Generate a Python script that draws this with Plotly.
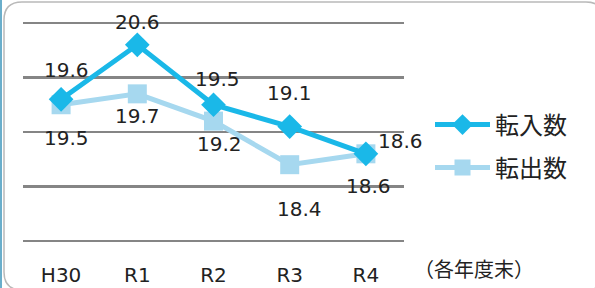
import plotly.graph_objects as go

# ---- data ----
years = ["H30", "R1", "R2", "R3", "R4"]
tennyu = [19.6, 20.6, 19.5, 19.1, 18.6]   # 転入数
tenshutsu = [19.5, 19.7, 19.2, 18.4, 18.6]  # 転出数
name_in = "転入数"
name_out = "転出数"
unit_note = "（各年度末）"

# ---- styling ----
W, H = 595, 288
Y_LO, Y_HI = 17, 21
PAD = 0.0367  # axis padding in data units (~2px) so end gridlines are drawn
ML, MR, MT, MB = 23, 191, 21, 45
PW, PH = W - ML - MR, H - MT - MB
NUMFONT = "DejaVu Sans, Noto Sans, sans-serif"
CJKFONT = "Noto Sans CJK JP, Noto Sans, sans-serif"
C_IN = "#1ab8e8"
C_OUT = "#a6d8ef"
GRID = "#858585"
TXT = "#222222"

# label offsets (px) for data labels
in_shift = [(5, 29), (0, 23), (4, 26), (0, 34), (35, 13)]
out_shift = [(5, -33), (0, -22), (6, -23), (10, -44), (3, -32)]


def px2paper(x, y):
    return (x - ML) / PW, (H - MB - y) / PH


fig = go.Figure()
fig.add_trace(go.Scatter(
    x=years, y=tenshutsu, name=name_out, mode="lines+markers",
    line=dict(color=C_OUT, width=5),
    marker=dict(symbol="square", size=19, color=C_OUT),
    legend="legend2", hoverinfo="skip",
))
fig.add_trace(go.Scatter(
    x=years, y=tennyu, name=name_in, mode="lines+markers",
    line=dict(color=C_IN, width=5),
    marker=dict(symbol="diamond", size=19, color=C_IN),
    legend="legend", hoverinfo="skip",
))

ann = []
for xv, yv, (dx, dy) in zip(years, tennyu, in_shift):
    ann.append(dict(x=xv, y=yv, xref="x", yref="y", text=f"{yv:.1f}", showarrow=False,
                    xshift=dx, yshift=dy, font=dict(size=20, color=TXT, family=NUMFONT)))
for xv, yv, (dx, dy) in zip(years, tenshutsu, out_shift):
    ann.append(dict(x=xv, y=yv, xref="x", yref="y", text=f"{yv:.1f}", showarrow=False,
                    xshift=dx, yshift=dy, font=dict(size=20, color=TXT, family=NUMFONT)))
nx, ny = px2paper(474, 268)
ann.append(dict(x=nx, y=ny, xref="paper", yref="paper", text=unit_note, showarrow=False,
                xanchor="center", yanchor="middle",
                font=dict(size=20, color=TXT, family=CJKFONT)))


def P(x, y):
    a, b = px2paper(x, y)
    return f"{a:.5f},{b:.5f}"


# rounded frame
x0, y0, x1, y1, r = 4, 2, 604, 290, 18
path = (f"M {P(x0 + r, y0)} L {P(x1 - r, y0)} Q {P(x1, y0)} {P(x1, y0 + r)} "
        f"L {P(x1, y1 - r)} Q {P(x1, y1)} {P(x1 - r, y1)} L {P(x0 + r, y1)} "
        f"Q {P(x0, y1)} {P(x0, y1 - r)} L {P(x0, y0 + r)} Q {P(x0, y0)} {P(x0 + r, y0)} Z")
shapes = [
    dict(type="path", xref="paper", yref="paper", path=path,
         line=dict(color="#b9b9b9", width=1.5), layer="below"),
]
bx0, by0 = px2paper(1, 0)
bx1, by1 = px2paper(1, H)
shapes.append(dict(type="line", xref="paper", yref="paper", x0=bx0, x1=bx1, y0=by0, y1=by1,
                   line=dict(color="#6aaecb", width=2)))

lx, ly1 = px2paper(430, 125)
_, ly2 = px2paper(430, 168)

fig.update_layout(
    width=W, height=H,
    margin=dict(l=ML, r=MR, t=MT, b=MB, autoexpand=False),
    paper_bgcolor="white", plot_bgcolor="white",
    font=dict(family=NUMFONT, color=TXT),
    showlegend=True,
    hovermode=False,
    legend=dict(x=lx, y=ly1, xanchor="left", yanchor="middle", itemwidth=55,
                font=dict(size=24, color=TXT, family=CJKFONT), bgcolor="rgba(0,0,0,0)"),
    legend2=dict(x=lx, y=ly2, xanchor="left", yanchor="middle", itemwidth=55,
                 font=dict(size=24, color=TXT, family=CJKFONT), bgcolor="rgba(0,0,0,0)"),
    xaxis=dict(type="category", range=[-0.5, 4.5], showgrid=False, zeroline=False,
               showline=False, automargin=False,
               tickfont=dict(size=20, color=TXT, family=NUMFONT), ticks="",
               ticklabelstandoff=18),
    yaxis=dict(range=[Y_LO - PAD, Y_HI + PAD], dtick=1, tick0=Y_LO, showticklabels=False,
               showgrid=True, gridcolor=GRID, gridwidth=2.5, zeroline=False, showline=False,
               automargin=False),
    annotations=ann,
    shapes=shapes,
)

fig.write_html("out.html", config={"displayModeBar": False, "staticPlot": True},
               post_script="document.body.style.margin='0';")
